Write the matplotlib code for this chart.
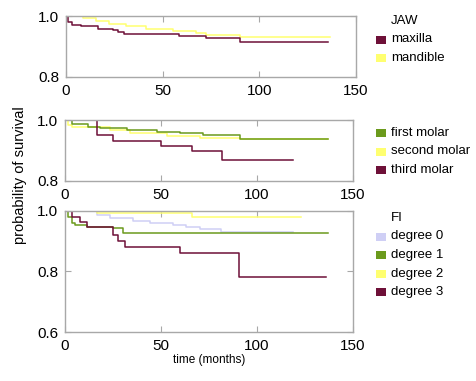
import matplotlib
matplotlib.use("Agg")
import matplotlib.pyplot as plt
from matplotlib.patches import Rectangle

plt.rcParams['font.family'] = ['Liberation Sans', 'DejaVu Sans']

MAROON = '#6e1038'
YELLOW = '#ffff70'
GREEN = '#6b9a1c'
LAVENDER = '#cfcff5'

# panel 1: jaw
jaw_labels = ['maxilla', 'mandible']
jaw_colors = [MAROON, YELLOW]
maxilla_t = [0, 0.9, 3.1, 7.8, 16.4, 24.2, 26.8, 30.2, 58.7, 72.5, 89.8, 135.6]
maxilla_s = [1.0, 0.98, 0.97, 0.967, 0.957, 0.953, 0.947, 0.94, 0.935, 0.929, 0.915, 0.915]
mandible_t = [0, 8.6, 15.5, 22.5, 31.2, 41.5, 55.3, 67.4, 72.5, 89.8, 136.5]
mandible_s = [1.0, 0.995, 0.984, 0.975, 0.966, 0.958, 0.951, 0.943, 0.938, 0.932, 0.932]

# panel 2: tooth
tooth_labels = ['first molar', 'second molar', 'third molar']
tooth_colors = [GREEN, YELLOW, MAROON]
first_t = [0, 3.5, 12.2, 18.2, 32.1, 47.7, 59.9, 72.0, 91.1, 137.2]
first_s = [1.0, 0.987, 0.978, 0.973, 0.967, 0.962, 0.956, 0.95, 0.937, 0.937]
second_t = [0, 1.7, 3.5, 23.4, 33.8, 52.9, 70.3, 91.1, 137.2]
second_s = [1.0, 0.984, 0.976, 0.967, 0.956, 0.948, 0.942, 0.937, 0.937]
third_t = [0, 16.5, 25.2, 49.8, 66.0, 81.6, 119.0]
third_s = [1.0, 0.951, 0.931, 0.915, 0.899, 0.869, 0.869]

# panel 3: FI
fi_labels = ['degree 0', 'degree 1', 'degree 2', 'degree 3']
fi_colors = [LAVENDER, GREEN, YELLOW, MAROON]
deg0_t = [0, 16.5, 23.4, 35.5, 44.2, 56.3, 63.2, 70.2, 81.5, 119.0]
deg0_s = [1.0, 0.987, 0.976, 0.967, 0.959, 0.954, 0.946, 0.939, 0.931, 0.931]
deg1_t = [0, 1.7, 3.5, 5.2, 11.3, 25.1, 30.3, 137.0]
deg1_s = [1.0, 0.981, 0.959, 0.954, 0.946, 0.943, 0.928, 0.928]
deg2_t = [0, 16.5, 66.4, 123.0]
deg2_s = [1.0, 0.993, 0.979, 0.979]
deg3_t = [0, 3.5, 7.8, 11.6, 25.1, 27.7, 31.2, 59.8, 90.6, 136.0]
deg3_s = [1.0, 0.981, 0.965, 0.946, 0.92, 0.902, 0.88, 0.86, 0.782, 0.782]

W, H = 477, 381
fig = plt.figure(figsize=(W / 100, H / 100), dpi=100)


def px_axes(x0, y0, x1, y1):
    return fig.add_axes([x0 / W, 1 - y1 / H, (x1 - x0) / W, (y1 - y0) / H])


def style(ax, ymin, yticks):
    ax.set_xlim(0, 150)
    ax.set_ylim(ymin, 1.0)
    ax.set_xticks([0, 50, 100, 150])
    ax.set_yticks(yticks)
    ax.set_yticklabels([f'{v:.1f}' for v in yticks])
    for sp in ax.spines.values():
        sp.set_color('#a8a8a8')
        sp.set_linewidth(1.0)
    ax.tick_params(direction='in', length=4, color='#a8a8a8', top=True, right=True,
                   labelsize=11, colors='#a8a8a8', labelcolor='black', pad=5)


def legend(x, y, title, labels, colors):
    if title:
        fig.text((x + 15) / W, 1 - y / H, title, fontsize=9.5, va='center')
    for i, (lab, col) in enumerate(zip(labels, colors)):
        yy = y + 18.5 * (i + 1) if title else y + 18.5 * i
        fig.add_artist(Rectangle((x / W, 1 - (yy + 4) / H), 10 / W, 8 / H,
                                 transform=fig.transFigure, color=col, lw=0))
        fig.text((x + 15) / W, 1 - yy / H, lab, fontsize=9.5, va='center')


ax1 = px_axes(66, 16, 356, 77)
for t, s, c in [(mandible_t, mandible_s, YELLOW), (maxilla_t, maxilla_s, MAROON)]:
    ax1.step(t, s, where='post', color=c, lw=1.1)
style(ax1, 0.8, [0.8, 1.0])
legend(376, 21, 'JAW', jaw_labels, jaw_colors)

ax2 = px_axes(65, 120, 353, 181)
for t, s, c in [(second_t, second_s, YELLOW), (first_t, first_s, GREEN),
                (third_t, third_s, MAROON)]:
    ax2.step(t, s, where='post', color=c, lw=1.1)
style(ax2, 0.8, [0.8, 1.0])
legend(376, 133, None, tooth_labels, tooth_colors)

ax3 = px_axes(65, 211, 353, 332)
for t, s, c in [(deg0_t, deg0_s, LAVENDER), (deg2_t, deg2_s, YELLOW),
                (deg1_t, deg1_s, GREEN), (deg3_t, deg3_s, MAROON)]:
    ax3.step(t, s, where='post', color=c, lw=1.1)
style(ax3, 0.6, [0.6, 0.8, 1.0])
ax3.set_xlabel('time (months)', fontsize=8.5, labelpad=1)
legend(376, 218, 'FI', fi_labels, fi_colors)

fig.text(20 / W, 1 - 175 / H, 'probability of survival', rotation=90,
         fontsize=10.5, va='center', ha='center')

fig.savefig('out.png', dpi=100)
